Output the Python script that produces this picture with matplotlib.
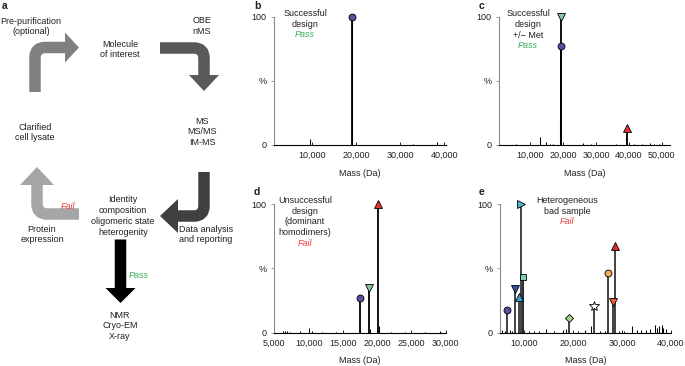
import matplotlib
matplotlib.use("Agg")
import matplotlib.pyplot as plt
from matplotlib.path import Path
from matplotlib.patches import PathPatch, Polygon

plt.rcParams['font.family'] = ['Liberation Sans', 'DejaVu Sans']
plt.rcParams['font.size'] = 6.5

# ----------------------------
# Spectrum data (mass in Da, intensity in %)
# ----------------------------
b_mass = [9650, 19050, 19200, 33000, 38300]
b_intensity = [5, 13, 100, 0.5, 2]
b_mark_mass = [19200]
b_mark_intensity = [100]
b_ticks = [10000, 20000, 30000, 40000]

c_mass = [5500, 12900, 14600, 16000, 17000, 19100, 26000, 28500, 33000, 36000,
          39200, 41500, 44000, 46500, 47500, 49000]
c_intensity = [0.5, 6, 2.5, 0.8, 0.8, 20, 1.5, 0.5, 0.3, 0.5,
               6, 0.5, 0.5, 1.5, 1, 1]
c_mark_mass = [19300, 19250, 39400]
c_mark_intensity = [100, 77, 13]
c_ticks = [10000, 20000, 30000, 40000, 50000]

d_mass = [6200, 6500, 6900, 7300, 8800, 10100, 10500, 12000, 14000, 17550,
          18900, 20300, 22000, 24000, 27000, 29200]
d_intensity = [1.2, 1, 1, 0.8, 1, 4, 1, 0.6, 0.5, 3,
               2.5, 5, 0.5, 0.5, 0.5, 1]
d_mark_mass = [17450, 18810, 20170]
d_mark_intensity = [27, 35, 100]
d_ticks = [5000, 10000, 15000, 20000, 25000, 30000]

e_mass = [5500, 6000, 7000, 7500, 9500, 9800, 11000, 12000, 13000, 14500,
          16000, 18000, 18600, 21000, 22500, 23600, 25500, 26500, 27000, 29500,
          30500, 32000, 33000, 34000, 35000, 35800, 36700, 37100, 37700, 38200,
          38500, 39000]
e_intensity = [2, 1, 2, 1.5, 40, 42, 1, 1, 1, 3,
               1, 2, 3, 1, 2, 5, 1, 1, 2, 1,
               1.5, 5, 2, 2, 2, 3, 6, 4, 5, 6,
               4, 3]
e_mark_mass = [6440, 8010, 8900, 9310, 9650, 19100, 24300, 27200, 28250, 28600]
e_mark_intensity = [17.6, 34, 27.5, 100, 43.5, 11.7, 21, 46, 24, 67.6]
e_ticks = [10000, 20000, 30000, 40000]

# marker styles
PURPLE = '#5a4ea1'
LGREEN = '#86c79a'
RED = '#e3342b'
b_styles = [('o', PURPLE)]
c_styles = [('v', LGREEN), ('o', PURPLE), ('^', RED)]
d_styles = [('o', PURPLE), ('v', LGREEN), ('^', RED)]
e_styles = [('o', PURPLE), ('v', '#3b4f9e'), ('^', '#3da0d9'), ('>', '#4bb8c8'),
            ('s', '#79cdb0'), ('D', '#a8d58c'), ('*', 'white'), ('o', '#f5a85a'),
            ('v', '#ec5a3a'), ('^', '#e02b2b')]

TEXT = '#231f20'
FAIL_RED = '#ee3b3b'
PASS_GREEN = '#3aaa5c'
W, H = 685, 366


# ----------------------------
# Spectrum panel
# ----------------------------
def draw_spectrum(fig, box, mass, inten, mk_mass, mk_int, styles, xlim, ticks, stem_color):
    ax = fig.add_axes([box[0] / W, 1 - box[3] / H, (box[2] - box[0]) / W, (box[3] - box[1]) / H])
    ax.set_facecolor('none')
    ax.vlines(mass, 0, inten, color='black', lw=0.75)
    ax.vlines(mk_mass, 0, mk_int, color=stem_color, lw=1.3)
    sizes = {'o': 5, 'v': 5.5, '^': 5.5, '>': 5.5, 's': 5, 'D': 4, '*': 7}
    for m, i, (shape, col) in zip(mk_mass, mk_int, styles):
        ax.plot(m, i, marker=shape, ms=sizes[shape], mfc=col, mec='black', mew=0.6,
                clip_on=False, zorder=5, ls='none')
    ax.set_xlim(xlim)
    ax.set_ylim(0, 100)
    ax.set_yticks([0, 50, 100])
    ax.set_yticklabels(['0', '%', '100'])
    ax.set_xticks(ticks)
    ax.set_xticklabels([f"{t:,}" for t in ticks])
    for s in ['top', 'right']:
        ax.spines[s].set_visible(False)
    ax.spines['left'].set_color('#8c8c8c')
    ax.spines['left'].set_linewidth(0.8)
    ax.spines['bottom'].set_linewidth(0.8)
    ax.tick_params(axis='y', length=2.5, width=0.6, color='#8c8c8c', pad=3, labelcolor=TEXT)
    ax.tick_params(axis='x', direction='in', length=2, width=0.6, pad=4.5, labelcolor=TEXT)
    ax.set_xlabel('Mass (Da)', labelpad=6, color=TEXT)
    return ax


# ----------------------------
# Bent arrow for the workflow diagram
# ----------------------------
def bent_arrow(ax, start, corner, end, tip, half, color, width=11.5, r=10):
    if corner is None:
        verts = [start, end]
        codes = [Path.MOVETO, Path.LINETO]
    else:
        dx1 = (corner[0] - start[0]), (corner[1] - start[1])
        n1 = (dx1[0] ** 2 + dx1[1] ** 2) ** 0.5
        dx2 = (end[0] - corner[0]), (end[1] - corner[1])
        n2 = (dx2[0] ** 2 + dx2[1] ** 2) ** 0.5
        p1 = (corner[0] - r * dx1[0] / n1, corner[1] - r * dx1[1] / n1)
        p2 = (corner[0] + r * dx2[0] / n2, corner[1] + r * dx2[1] / n2)
        verts = [start, p1, corner, p2, end]
        codes = [Path.MOVETO, Path.LINETO, Path.CURVE3, Path.CURVE3, Path.LINETO]
    patch = PathPatch(Path(verts, codes), fill=False, edgecolor=color,
                      lw=width * 72 / 100, capstyle='butt', joinstyle='round')
    ax.add_patch(patch)
    # head
    dx, dy = tip[0] - end[0], tip[1] - end[1]
    n = (dx ** 2 + dy ** 2) ** 0.5
    px, py = -dy / n, dx / n
    head = [(end[0] + px * half, end[1] + py * half), tip,
            (end[0] - px * half, end[1] - py * half)]
    ax.add_patch(Polygon(head, closed=True, facecolor=color, edgecolor='none'))


def label(ax, x, y, s, **kw):
    opts = dict(ha='center', va='center', color=TEXT, fontsize=6.5, linespacing=1.25)
    opts.update(kw)
    ax.text(x, y, s, **opts)


# ----------------------------
# Main Function
# ----------------------------
def main():
    fig = plt.figure(figsize=(6.85, 3.66), dpi=100)
    canvas = fig.add_axes([0, 0, 1, 1])
    canvas.set_xlim(0, W)
    canvas.set_ylim(H, 0)
    canvas.axis('off')

    # panel a workflow
    bent_arrow(canvas, (35, 92), (35, 47.5), (65, 47.5), (79, 47.5), 15, '#808080')
    bent_arrow(canvas, (160, 48), (204, 48), (204, 75), (204, 91), 15, '#595959')
    bent_arrow(canvas, (204, 172), (204, 216), (178, 216), (160, 216), 17, '#404040')
    bent_arrow(canvas, (79, 214), (37, 214), (37, 185), (37, 167), 17, '#a6a6a6')
    bent_arrow(canvas, (120.5, 239), None, (120.5, 288), (120.5, 303), 15, 'black')

    label(canvas, 31, 26.5, 'Pre-purification\n(optional)')
    label(canvas, 120, 49.5, 'Molecule\nof interest')
    label(canvas, 202, 26, 'OBE\nnMS')
    label(canvas, 202, 132, 'MS\nMS/MS\nIM-MS')
    label(canvas, 35, 132.5, 'Clarified\ncell lysate')
    label(canvas, 123, 216, 'Identity\ncomposition\noligomeric state\nheterogenity')
    label(canvas, 42, 234.5, 'Protein\nexpression')
    label(canvas, 179, 234.5, 'Data analysis\nand reporting', ha='left')
    label(canvas, 68, 206.5, 'Fail', color=FAIL_RED, style='italic')
    label(canvas, 139, 275, 'Pass', color=PASS_GREEN, style='italic')
    label(canvas, 120, 326, 'NMR\nCryo-EM\nX-ray')

    # panel letters
    for x, y, s in [(2, 6, 'a'), (254, 6, 'b'), (479, 6, 'c'), (254, 192, 'd'), (479, 192, 'e')]:
        canvas.text(x, y, s, fontsize=7.5, fontweight='bold', ha='left', va='center', color=TEXT)

    # spectra
    draw_spectrum(fig, (274.3, 17, 445.7, 145), b_mass, b_intensity, b_mark_mass,
                  b_mark_intensity, b_styles, (1500, 40300), b_ticks, 'black')
    draw_spectrum(fig, (499.3, 17, 670, 145), c_mass, c_intensity, c_mark_mass,
                  c_mark_intensity, c_styles, (500, 52500), c_ticks, 'black')
    draw_spectrum(fig, (274.3, 204, 445.7, 332.7), d_mass, d_intensity, d_mark_mass,
                  d_mark_intensity, d_styles, (5000, 30000), d_ticks, 'black')
    draw_spectrum(fig, (500, 204, 670.7, 332.7), e_mass, e_intensity, e_mark_mass,
                  e_mark_intensity, e_styles, (5000, 40000), e_ticks, '#333333')

    # spectrum annotations
    label(canvas, 305, 18.7, 'Successful\ndesign')
    label(canvas, 305, 34.7, 'Pass', color=PASS_GREEN, style='italic')
    label(canvas, 528, 24.5, 'Successful\ndesign\n+/\u2212 Met')
    label(canvas, 528, 45.7, 'Pass', color=PASS_GREEN, style='italic')
    label(canvas, 305, 216.5, 'Unsuccessful\ndesign\n(dominant\nhomodimers)')
    label(canvas, 305, 243.7, 'Fail', color=FAIL_RED, style='italic')
    label(canvas, 567, 205.8, 'Heterogeneous\nbad sample')
    label(canvas, 567, 222, 'Fail', color=FAIL_RED, style='italic')

    fig.savefig('out.png', dpi=100)


if __name__ == "__main__":
    main()
